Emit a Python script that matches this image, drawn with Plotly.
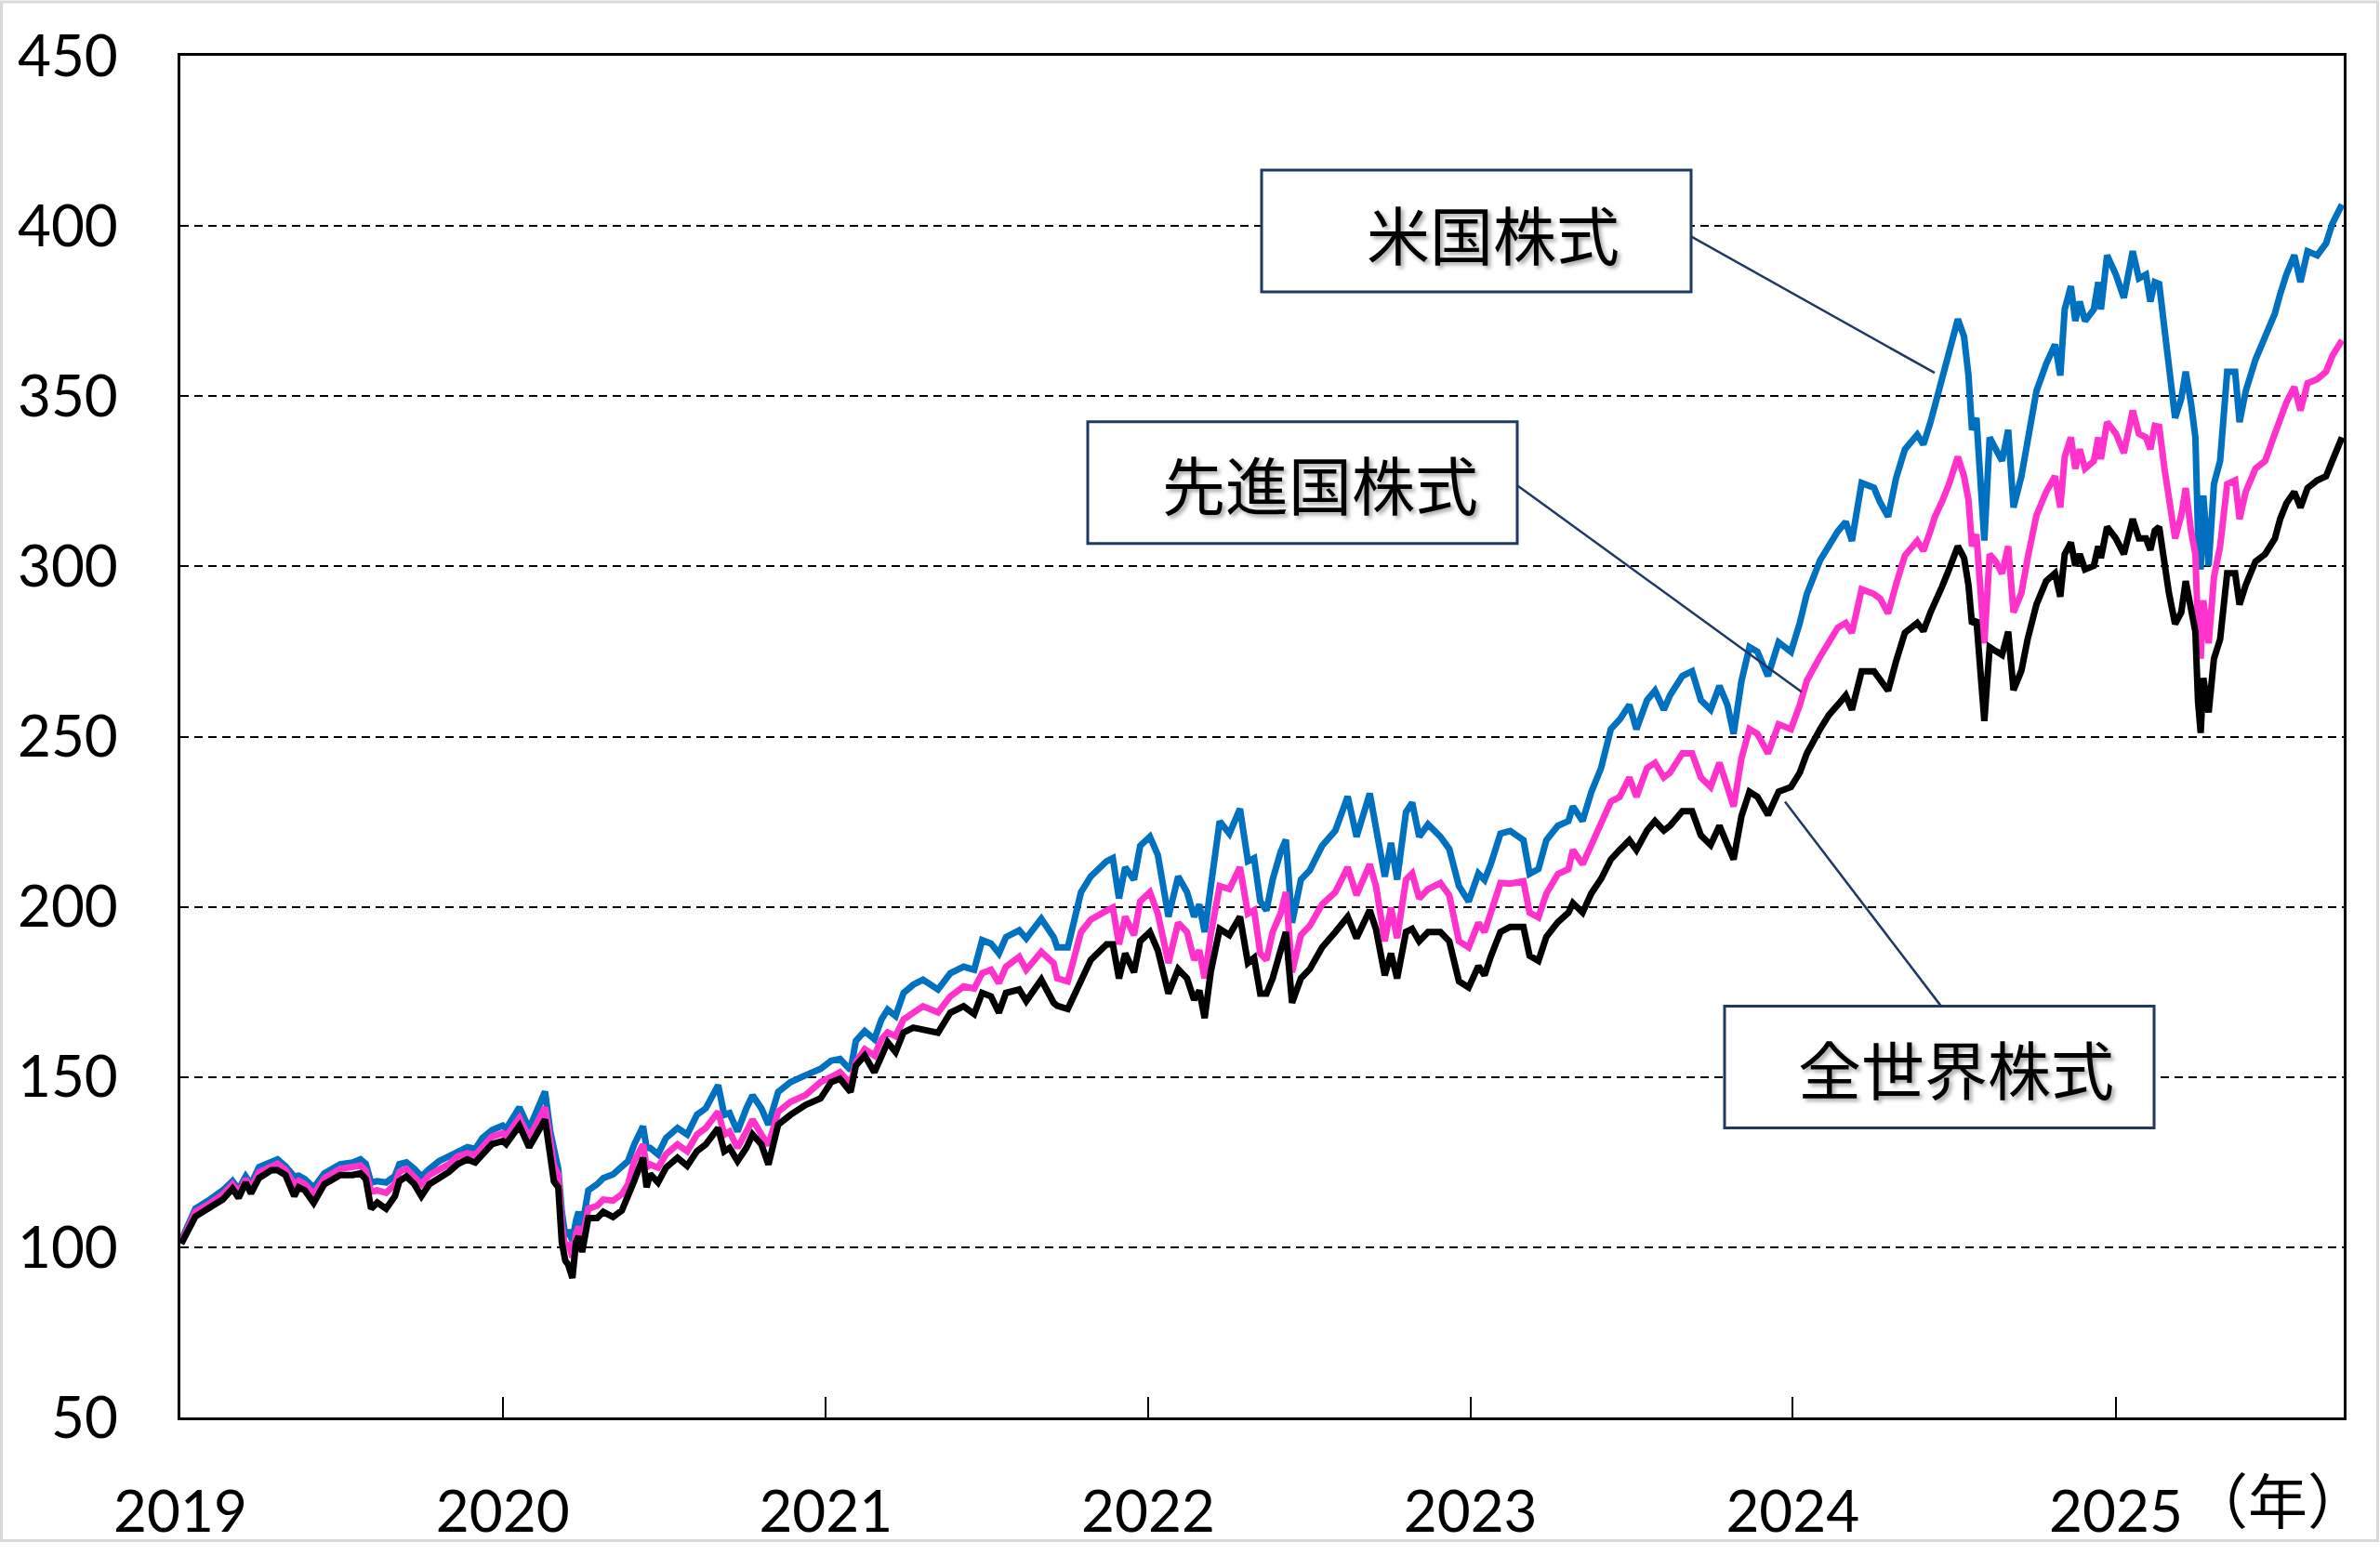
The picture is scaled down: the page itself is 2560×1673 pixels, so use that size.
import plotly.graph_objects as go

# ---------------- data ----------------
dates = [
    "2019-01-02", "2019-01-11", "2019-01-18", "2019-02-01", "2019-02-18", "2019-03-01", "2019-03-08",
    "2019-03-16", "2019-03-22", "2019-03-31", "2019-04-14", "2019-04-21", "2019-04-30", "2019-05-10",
    "2019-05-15", "2019-05-22", "2019-06-01", "2019-06-13", "2019-07-01", "2019-07-15", "2019-07-24",
    "2019-07-30", "2019-08-05", "2019-08-12", "2019-08-22", "2019-09-01", "2019-09-06", "2019-09-14",
    "2019-09-23", "2019-10-01", "2019-10-10", "2019-10-21", "2019-11-01", "2019-11-11", "2019-11-22",
    "2019-12-01", "2019-12-09", "2019-12-20",
    "2020-01-01", "2020-01-05", "2020-01-15", "2020-01-20", "2020-01-31", "2020-02-11", "2020-02-18",
    "2020-02-24", "2020-02-28", "2020-03-04", "2020-03-08", "2020-03-12", "2020-03-15", "2020-03-20",
    "2020-03-24", "2020-03-27", "2020-03-31", "2020-04-07", "2020-04-17", "2020-04-24", "2020-05-05",
    "2020-05-15", "2020-05-22", "2020-05-29", "2020-06-08", "2020-06-12", "2020-06-16", "2020-06-25",
    "2020-07-04", "2020-07-17", "2020-07-28", "2020-08-08", "2020-08-18", "2020-09-01", "2020-09-08",
    "2020-09-14", "2020-09-23", "2020-10-03", "2020-10-10", "2020-10-20", "2020-10-28", "2020-11-08",
    "2020-11-22", "2020-12-09", "2020-12-26",
    "2021-01-07", "2021-01-17", "2021-01-29", "2021-02-04", "2021-02-14", "2021-02-25", "2021-03-05",
    "2021-03-12", "2021-03-21", "2021-03-30", "2021-04-10", "2021-04-21", "2021-05-08", "2021-05-22",
    "2021-06-06", "2021-06-18", "2021-06-27", "2021-07-07", "2021-07-16", "2021-07-24", "2021-08-08",
    "2021-08-16", "2021-09-02", "2021-09-16", "2021-09-20", "2021-10-02", "2021-10-17", "2021-10-28",
    "2021-11-15", "2021-11-22", "2021-11-29", "2021-12-06", "2021-12-16", "2021-12-23",
    "2022-01-03", "2022-01-12", "2022-01-24", "2022-02-04", "2022-02-14", "2022-02-22", "2022-02-28",
    "2022-03-06", "2022-03-13", "2022-03-23", "2022-04-03", "2022-04-15", "2022-04-24", "2022-05-01",
    "2022-05-08", "2022-05-15", "2022-05-22", "2022-05-31", "2022-06-06", "2022-06-13", "2022-06-23",
    "2022-07-03", "2022-07-17", "2022-08-01", "2022-08-15", "2022-08-25", "2022-09-09", "2022-09-16",
    "2022-09-26", "2022-10-03", "2022-10-10", "2022-10-20", "2022-10-27", "2022-11-04", "2022-11-14",
    "2022-11-28", "2022-12-08", "2022-12-19", "2022-12-30",
    "2023-01-10", "2023-01-17", "2023-01-24", "2023-02-04", "2023-02-15", "2023-03-02", "2023-03-09",
    "2023-03-19", "2023-03-28", "2023-04-10", "2023-04-22", "2023-04-27", "2023-05-08", "2023-05-18",
    "2023-05-29", "2023-06-09", "2023-06-19", "2023-06-30", "2023-07-08", "2023-07-20", "2023-07-29",
    "2023-08-08", "2023-08-15", "2023-08-29", "2023-09-09", "2023-09-19", "2023-09-30", "2023-10-10",
    "2023-10-19", "2023-10-26", "2023-11-04", "2023-11-13", "2023-11-22", "2023-12-04", "2023-12-16",
    "2023-12-30",
    "2024-01-09", "2024-01-17", "2024-02-01", "2024-02-11", "2024-02-21", "2024-03-01", "2024-03-08",
    "2024-03-19", "2024-04-02", "2024-04-09", "2024-04-18", "2024-04-27", "2024-05-07", "2024-05-21",
    "2024-05-28", "2024-06-05", "2024-06-10", "2024-06-18", "2024-06-26", "2024-07-06", "2024-07-13",
    "2024-07-18", "2024-07-22", "2024-07-27", "2024-08-05", "2024-08-11", "2024-08-18", "2024-08-25",
    "2024-09-01", "2024-09-07", "2024-09-16", "2024-09-23", "2024-10-03", "2024-10-14", "2024-10-24",
    "2024-10-30", "2024-11-04", "2024-11-11", "2024-11-16", "2024-11-21", "2024-11-27", "2024-12-07",
    "2024-12-12", "2024-12-15", "2024-12-22",
    "2025-01-01", "2025-01-10", "2025-01-20", "2025-01-27", "2025-02-04", "2025-02-09", "2025-02-14",
    "2025-02-19", "2025-02-25", "2025-03-02", "2025-03-09", "2025-03-16", "2025-03-21", "2025-03-27",
    "2025-04-01", "2025-04-04", "2025-04-07", "2025-04-10", "2025-04-16", "2025-04-22", "2025-04-29",
    "2025-05-07", "2025-05-16", "2025-05-21", "2025-05-28", "2025-06-08", "2025-06-19", "2025-06-30",
    "2025-07-06", "2025-07-13", "2025-07-22", "2025-07-29", "2025-08-06", "2025-08-17", "2025-08-27",
    "2025-09-03", "2025-09-14",
]

us_stocks = [  # 米国株式 (blue)
    102, 106.8, 111.3, 113.6, 116.7, 119.4, 117, 120.8, 118.5, 123.5, 124.9, 125.8, 123.8, 120.8,
    121, 120, 117.5, 121.7, 124.4, 124.9, 125.8, 124.5, 119, 119.4, 119, 121, 124.4, 124.9,
    123, 120.8, 123, 125.3, 126.7, 128, 129.4, 128.9, 132.1, 134.4,
    135.7, 134.8, 138.9, 141.1, 134.8, 141.6, 145.7, 133.9, 128.5, 123, 110.4, 103.2, 105, 102,
    107.7, 110.4, 106, 116.7, 118.5, 120.3, 121.4, 123.4, 125.3, 130.2, 135.5, 129.2, 129.2, 127.3,
    132.1, 135, 133.1, 138.9, 140.8, 147.6, 138.9, 139.4, 134, 140.8, 144.6, 140.8, 136, 145.6,
    148.5, 150.5, 152.4,
    154.8, 155.3, 152, 160.6, 163.5, 161.1, 166.9, 169.8, 167.9, 174.7, 177.1, 178.6, 175.7, 180.5,
    182.4, 181.5, 190.2, 189.2, 186.3, 191.1, 193.1, 190.7, 196.5, 191.1, 188.1, 188.1, 204.3, 208.9,
    213.4, 214.3, 202.5, 211.6, 208, 217.9,
    220.6, 215.2, 197.1, 208.9, 204.3, 197.1, 200.7, 192.6, 206, 225.1, 221.5, 228.8, 213.4, 214.3,
    201.6, 198.9, 208, 216.1, 219.7, 195.3, 208, 210.7, 217.9, 222.4, 232.4, 220.6, 233.3, 224.2,
    208.9, 218.8, 208, 227.8, 230.6, 220.6, 224.2, 220.6, 217, 206.1, 201.6,
    209.8, 207.9, 212.5, 221.5, 222.3, 219.6, 209.7, 211.1, 219.6, 223.8, 225.2, 229.5, 225.2, 233.8,
    240.8, 252.2, 255, 259.3, 252.2, 260.7, 263.5, 257.9, 262.1, 267.8, 269.2, 260.7, 257.9, 264.9,
    259.3, 250.8, 266.4, 276.3, 274.9, 267.8, 277.7, 274.9,
    283.4, 291.9, 301.8, 306.1, 310.3, 313.1, 307.5, 324.5, 323.1, 318.8, 314.6, 325.9, 334.4, 338.7,
    335.8, 342.4, 347.2, 356, 362.9, 372.6, 367.5, 356.1, 340.1, 343.6, 307.6, 337.9, 334.4, 331,
    340.1, 317.3, 326.5, 337.9, 351.5, 359.5, 365.2, 356.1, 375.5, 382.3, 372.1, 377.8, 372.1, 375.5,
    383.5, 375.5, 391.4,
    385.7, 378.9, 392.6, 384.6, 385.7, 377.8, 383.5, 383, 369.8, 358.4, 343.6, 349.3, 357.2, 348,
    337.9, 309.4, 299.1, 320.8, 300.2, 324.2, 331, 357.2, 357.2, 342.4, 351.5, 360.7, 367.5, 374.3,
    380, 385.7, 391.4, 383.5, 392.6, 391.4, 394.9, 400.6, 406.3,
]

developed_stocks = [  # 先進国株式 (pink)
    101.5, 106.5, 110.4, 112.5, 115.5, 118.5, 116, 120, 117.5, 122, 124, 124.5, 122.8, 118.5,
    119.5, 118.5, 115.5, 120.3, 123, 123.5, 124, 122.5, 116.3, 116.7, 116, 118.5, 122.2, 123,
    120.8, 118.5, 121.2, 123, 124.4, 126.7, 127.6, 127.1, 129.4, 132.5,
    133.5, 132.5, 136.2, 138, 132.1, 138, 141.1, 131.2, 124, 121.2, 106.8, 99.5, 101.4, 97,
    104.1, 106, 102.5, 111.3, 112.2, 114, 113.7, 115.6, 118.5, 125.3, 130.2, 123.4, 124.3, 123.4,
    127.3, 130.2, 128.2, 133.1, 135, 139.8, 133.1, 134, 129.2, 134, 137.5, 133.1, 130, 139.8,
    142.7, 144.7, 148.5,
    150, 151.4, 148, 154.4, 158.2, 156.3, 161.1, 163.1, 162, 166.9, 168.9, 170.8, 169, 173.7,
    176.6, 176, 180.5, 181.5, 177.6, 182.4, 185.3, 181.5, 186.8, 183.4, 179, 178.1, 192.6, 196.2,
    198.9, 199.8, 189, 197.1, 191.7, 201.6,
    204.3, 198, 183.5, 195.3, 192.6, 184.4, 187.2, 179, 192, 206.1, 205.2, 211.6, 198, 199,
    186.3, 184.4, 192.6, 198, 204.3, 180.8, 191.7, 194.4, 200.7, 204.3, 211.6, 203.4, 212.5, 206.1,
    189.9, 199.8, 190.8, 208, 209.8, 202.5, 205.2, 207, 203.4, 189.9, 188.1,
    195.3, 192.6, 198, 207, 206.8, 207.5, 198.3, 196.9, 203.9, 209.6, 211.1, 216.7, 212.5, 218.2,
    223.8, 230.9, 232.3, 238, 232.3, 240.8, 242.3, 238, 239.4, 245.1, 245.1, 238, 235.2, 242.3,
    235.2, 229.5, 243.7, 252.2, 250.8, 245.1, 253.6, 252.2,
    259.3, 266.4, 273.5, 277.7, 282, 283.4, 280.5, 293.3, 291.9, 290.5, 286.2, 294.7, 303.2, 307.5,
    304.6, 310.5, 314.6, 319, 324.2, 332.2, 326.5, 319.6, 305.9, 309.4, 277.4, 303.6, 301.4, 297.9,
    305.9, 286.5, 292.2, 302.4, 315, 321.9, 326.5, 317.3, 332.2, 337.9, 328.7, 334.4, 328.7, 331,
    337.9, 331.5, 342.4,
    339, 333.3, 345.8, 339, 337.9, 334.4, 341.3, 341, 328.7, 319.6, 308.2, 315, 323, 310.5,
    303.6, 280.8, 272.9, 290, 277.4, 296.8, 305.9, 324.2, 325.3, 313.9, 321.9, 328.7, 331, 339,
    343.6, 348.1, 352.7, 345.8, 353.8, 355, 357.2, 361.8, 366.4,
]

world_stocks = [  # 全世界株式 (black)
    101, 105.9, 109, 111.3, 114, 117.2, 114.5, 119, 115.8, 120.3, 122.6, 122.6, 121.2, 115,
    117.6, 116.7, 113, 118.5, 121.2, 121.2, 121.7, 120, 111.3, 113.1, 111.3, 115, 119.4, 120.8,
    118.5, 115, 118.5, 120.3, 122.1, 124.4, 125.8, 124.9, 127.1, 130.3,
    131.2, 130.3, 133.9, 135.7, 129.4, 134.8, 137.5, 126.7, 119.4, 117.6, 101.4, 96, 95, 91,
    101.4, 103.2, 98.6, 108.6, 108.6, 110.4, 108.9, 110.8, 114.7, 119.5, 126.3, 117.6, 121.5, 119,
    123.4, 126.3, 123.9, 128.2, 130.2, 135, 128.2, 129.2, 125.3, 129.2, 133.1, 130.2, 124.3, 136,
    138.9, 141.8, 143.7,
    148.5, 149.5, 145.6, 153.4, 156.3, 151.4, 156.3, 160.2, 157.3, 163.1, 164.5, 164, 163, 168.9,
    170.8, 168.5, 174.7, 173.7, 168.9, 174.7, 175.7, 172.3, 178.6, 171.8, 170.9, 170, 179, 184.4,
    189, 189, 179, 186.3, 180.8, 189.9,
    192.6, 187.2, 174.5, 181.7, 179, 172.7, 175.4, 167.3, 181, 193.5, 191.7, 197.1, 183.5, 185,
    174.5, 174.5, 179, 186.3, 192.6, 171.8, 179, 181.7, 188.1, 192.6, 197.1, 190.8, 199, 193.5,
    179.9, 186.3, 179, 192.6, 193.5, 189.9, 192.6, 192.6, 189.9, 178.1, 176.3,
    182.6, 179.9, 185.4, 192.6, 194.1, 194.1, 185.6, 184.1, 191.2, 195.5, 198.3, 201.1, 198.3, 204,
    208.2, 213.9, 216.7, 219.6, 216.7, 222.4, 225.2, 222.4, 223.8, 228.1, 228.1, 221, 218.2, 223.8,
    218.2, 213.9, 226.7, 233.8, 232.3, 227, 233.8, 235.2,
    239.4, 245.1, 252.2, 256.4, 259.3, 262.1, 257.9, 269.2, 269.2, 266.4, 263.5, 272.1, 280.5, 283.4,
    281, 286.5, 289, 294, 299.1, 305.9, 302.5, 294.5, 283.1, 284.3, 254.6, 276.3, 275.1, 274,
    280.8, 263.7, 269.4, 278.6, 288.8, 295.7, 298, 291.1, 303.6, 307, 300.2, 303.6, 299.1, 300.2,
    305.9, 302.5, 311.6,
    308.2, 303.6, 313.9, 308.2, 308.2, 304.8, 310.5, 311.6, 299.1, 292.2, 283.1, 286.5, 295.7, 287.7,
    280.8, 260.3, 251.1, 267.2, 257.1, 272.9, 278.6, 298, 298, 288.8, 294.5, 301.4, 303.6, 308.2,
    313.9, 318.5, 321.9, 317.3, 323, 325.3, 326.5, 331, 337.9,
]

year_ticks = ["2019-01-01", "2020-01-01", "2021-01-01", "2022-01-01",
              "2023-01-01", "2024-01-01", "2025-01-01"]
year_labels = ["2019", "2020", "2021", "2022", "2023", "2024", "2025"]
series_names = ["米国株式", "先進国株式", "全世界株式"]

# ---------------- figure ----------------
W, H = 2560, 1673
L, R, T, B = 194, 2521, 60, 1537


def px(x):
    return (x - L) / (R - L)


def py(y):
    return (B - y) / (B - T)


fig = go.Figure()
colors = ["#0070C0", "#FF33CC", "#000000"]
for name, vals, col in zip(series_names, [us_stocks, developed_stocks, world_stocks], colors):
    fig.add_trace(go.Scatter(x=dates, y=vals, mode="lines", name=name,
                             line=dict(color=col, width=7), showlegend=False))

tick_font = dict(family="Lato, 'Open Sans', sans-serif", size=62, color="black")
fig.update_layout(
    width=W, height=H,
    margin=dict(l=L, r=W - R, t=T, b=H - B),
    plot_bgcolor="white", paper_bgcolor="white",
    showlegend=False,
    xaxis=dict(
        type="date", range=["2019-01-01", "2025-09-16"],
        tickmode="array", tickvals=year_ticks, ticktext=year_labels,
        ticks="inside", ticklen=22, tickwidth=2, tickcolor="black",
        showline=True, linecolor="black", linewidth=2.5, mirror=True,
        showgrid=False, zeroline=False,
        tickfont=tick_font, ticklabelstandoff=46,
    ),
    yaxis=dict(
        range=[50, 450], tick0=50, dtick=50,
        showline=True, linecolor="black", linewidth=2.5, mirror=True,
        showgrid=True, gridcolor="black", gridwidth=1.8, griddash="9px,6px",
        zeroline=False, ticks="",
        tickfont=tick_font, ticklabelstandoff=52,
    ),
)

navy = "#1F3864"
boxes = [
    # (x0, y0, x1, y1, text, text_cx, text_cy)
    (1357, 184, 1819, 316, series_names[0], 1606, 252),
    (1170, 457, 1632, 589, series_names[1], 1420, 523),
    (1855, 1091, 2317, 1223, series_names[2], 2104, 1157),
]
leaders = [
    (1819, 256, 2081, 404),
    (1632, 526, 1938, 750),
    (1920, 869, 2088, 1091),
]
for x0, y0, x1, y1 in leaders:
    fig.add_shape(type="line", xref="paper", yref="paper",
                  x0=px(x0), y0=py(y0), x1=px(x1), y1=py(y1),
                  line=dict(color=navy, width=2.5), layer="above")
for x0, y0, x1, y1, txt, cx, cy in boxes:
    fig.add_shape(type="rect", xref="paper", yref="paper",
                  x0=px(x0), y0=py(y1), x1=px(x1), y1=py(y0),
                  line=dict(color=navy, width=3), fillcolor="white", layer="above")
    fig.add_annotation(xref="paper", yref="paper", x=px(cx), y=py(cy),
                       text=txt, showarrow=False, xanchor="center", yanchor="middle",
                       font=dict(family="Noto Sans CJK JP", size=68, color="black",
                                 shadow="3px 3px 4px rgba(0,0,0,0.35)"))

# year unit label
fig.add_annotation(xref="paper", yref="paper", x=px(2450), y=py(1624),
                   text="（年）", showarrow=False, xanchor="center", yanchor="middle",
                   font=dict(family="Noto Sans CJK JP", size=64, color="black"))

# outer light-grey frame
fig.add_shape(type="rect", xref="paper", yref="paper",
              x0=px(1.5), y0=py(1670.5), x1=px(2557.5), y1=py(1.5),
              line=dict(color="#D9D9D9", width=3), fillcolor="rgba(0,0,0,0)", layer="above")

page_fix = (
    "var h=document.documentElement;h.style.margin='0';h.style.padding='0';"
    "h.style.overflow='hidden';"
    "var b=document.body;b.style.margin='0';b.style.padding='0';"
    "b.style.overflow='hidden';"
)
fig.write_html("out.html", config={"displayModeBar": False}, post_script=page_fix)
